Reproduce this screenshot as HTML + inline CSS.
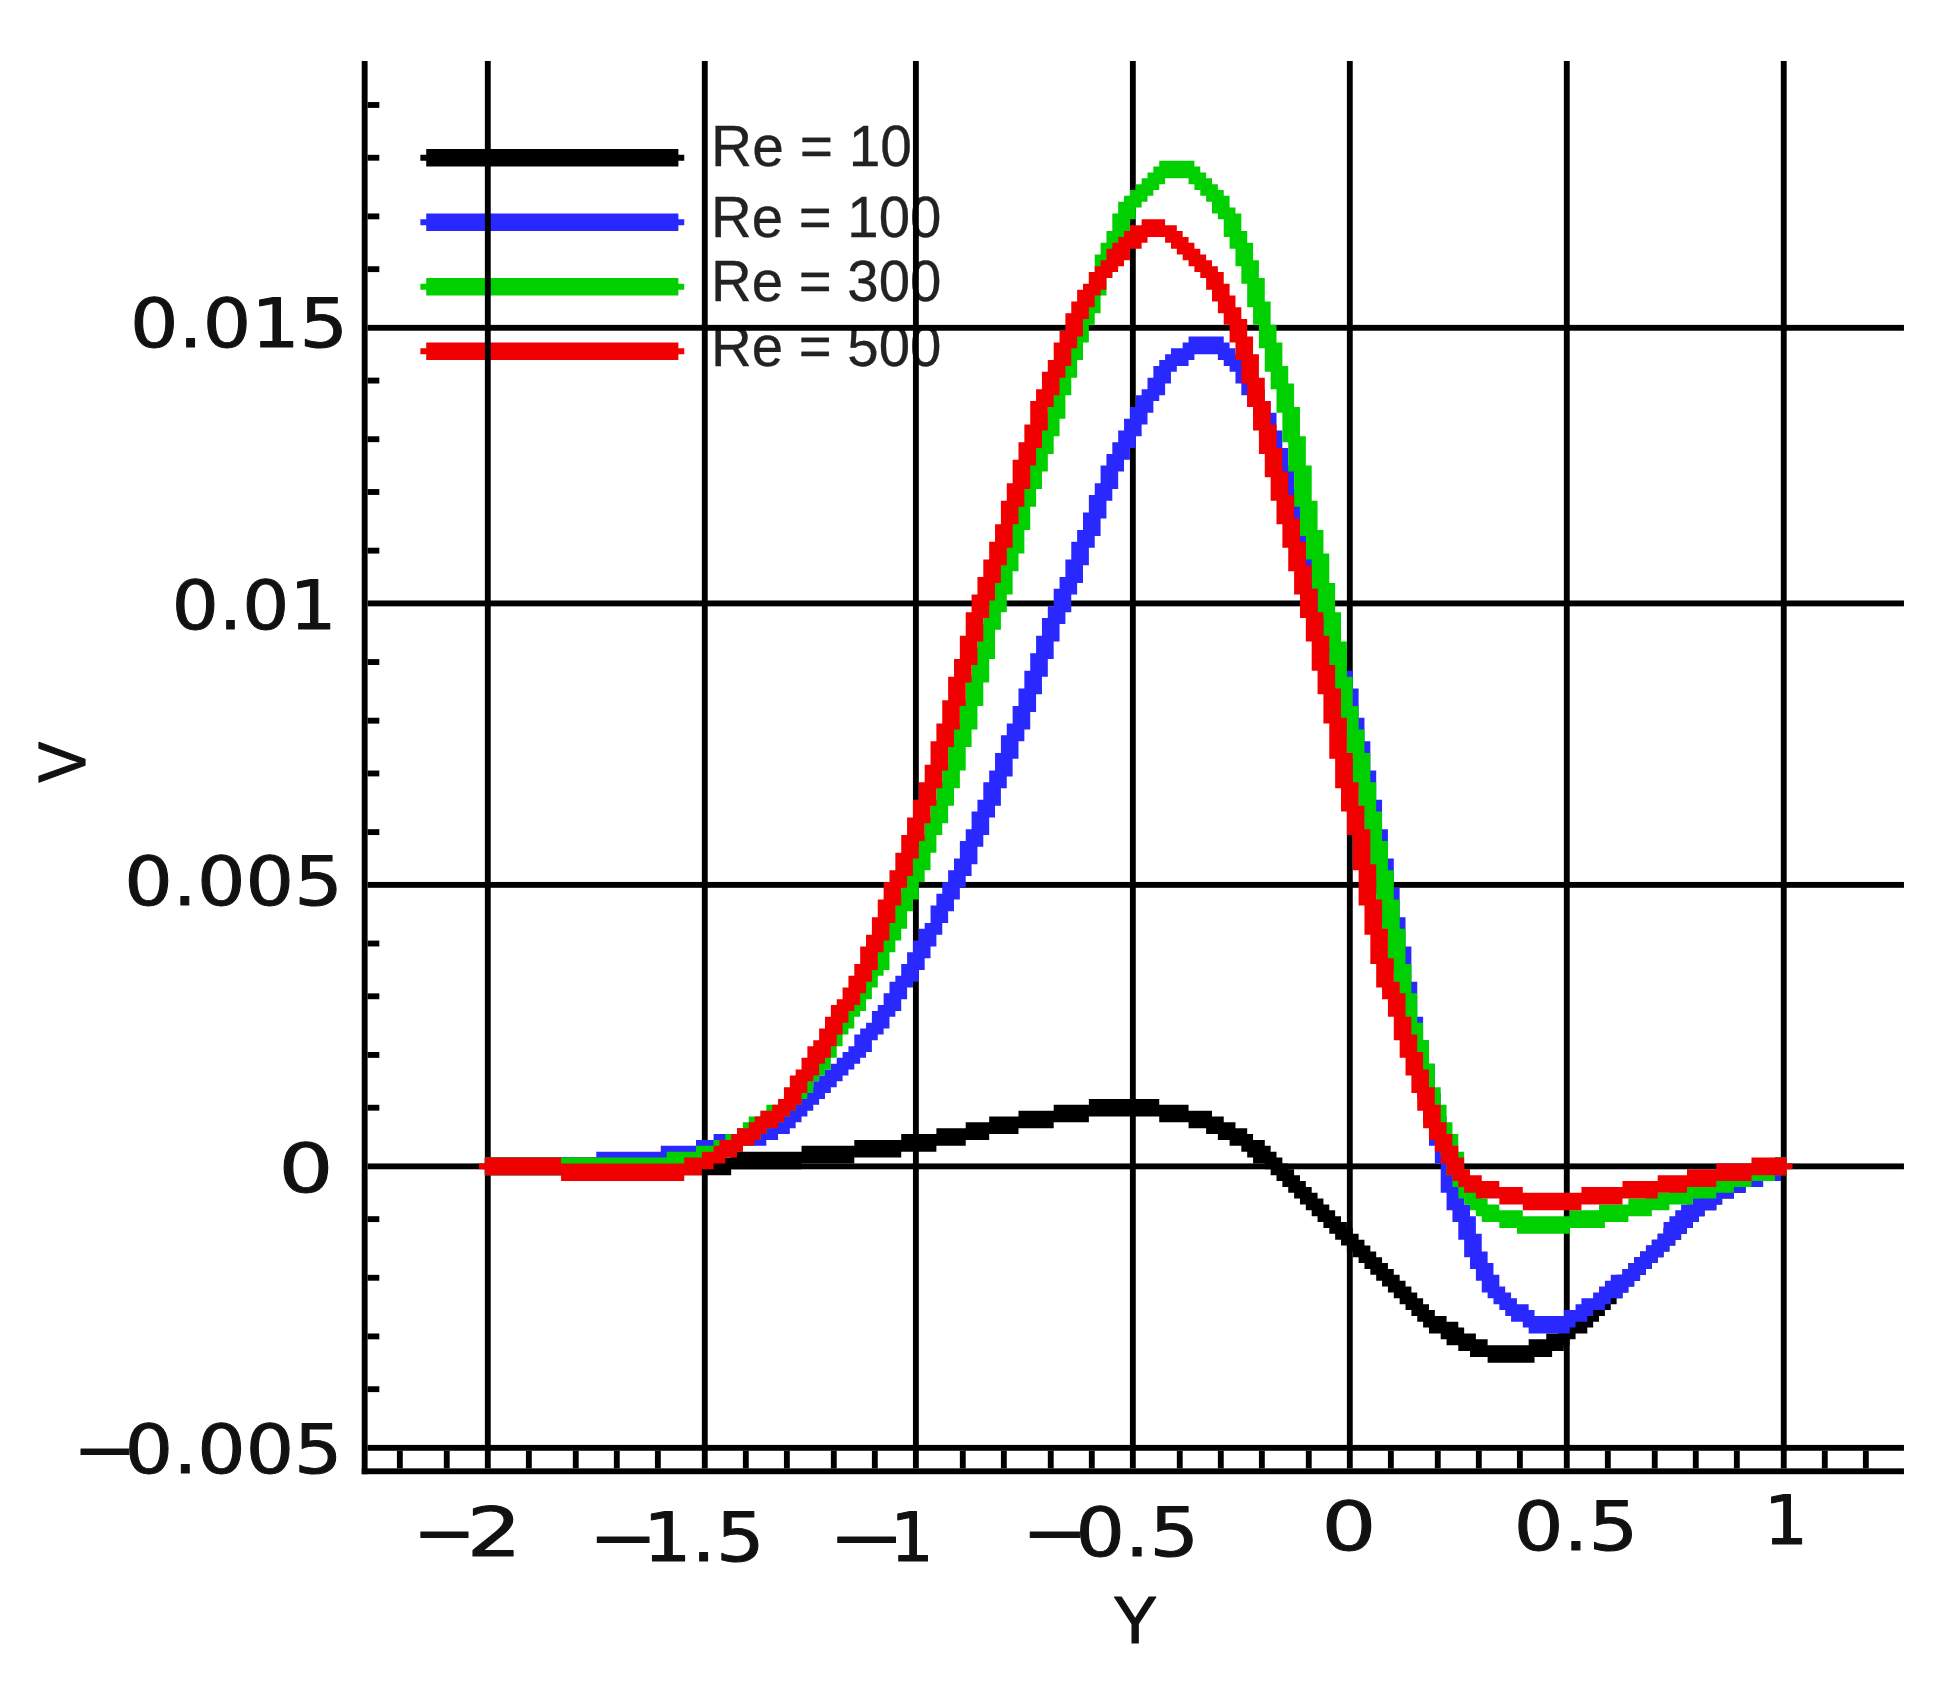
<!DOCTYPE html>
<html lang="en"><head><meta charset="utf-8"><title>V versus Y for several Reynolds numbers</title>
<style>html,body{margin:0;padding:0;background:#fff}body{width:1949px;height:1682px;overflow:hidden}svg{display:block}.tk{font-family:"DejaVu Sans","Liberation Sans",sans-serif;font-size:68.5px;fill:#111;stroke:#111;stroke-width:1px;stroke-linejoin:round}.lg{font-family:"Liberation Sans",sans-serif;font-size:57.5px;fill:#222;stroke:#222;stroke-width:0.3px}.ax{font-family:"Liberation Sans",sans-serif;font-size:66.5px;fill:#111;stroke:#111;stroke-width:1.2px;stroke-linejoin:round}</style></head><body>
<svg width="1949" height="1682" viewBox="0 0 1949 1682">
<rect width="1949" height="1682" fill="#fff"/>
<g id="legend-text">
<text class="lg" x="711.1" y="166.4" textLength="200.9" lengthAdjust="spacingAndGlyphs">Re = 10</text>
<text class="lg" x="711.1" y="236.7" textLength="230.3" lengthAdjust="spacingAndGlyphs">Re = 100</text>
<text class="lg" x="711.1" y="301.2" textLength="230.3" lengthAdjust="spacingAndGlyphs">Re = 300</text>
<text class="lg" x="711.1" y="365.5" textLength="230.3" lengthAdjust="spacingAndGlyphs">Re = 500</text>
</g>
<g id="plot" transform="translate(-1.84 2.35) scale(5.864)">
<g id="legend-lines">
<path fill="#000000" d="M72 26 h1 v-1 h43 v1 h1 v1 h-1 v1 h-43 v-1 h-1 z"/>
<path fill="#2929ff" d="M72 37 h1 v-1 h43 v1 h1 v1 h-1 v1 h-43 v-1 h-1 z"/>
<path fill="#00d000" d="M72 48 h1 v-1 h43 v1 h1 v1 h-1 v1 h-43 v-1 h-1 z"/>
<path fill="#f00000" d="M72 59 h1 v-1 h43 v1 h1 v1 h-1 v1 h-43 v-1 h-1 z"/>
</g>
<g id="grid" fill="#000">
<rect x="62" y="10" width="1" height="241"/>
<rect x="62" y="250" width="263" height="1"/>
<rect x="83" y="10" width="1" height="240"/>
<rect x="120" y="10" width="1" height="240"/>
<rect x="156" y="10" width="1" height="240"/>
<rect x="193" y="10" width="1" height="240"/>
<rect x="230" y="10" width="1" height="240"/>
<rect x="267" y="10" width="1" height="240"/>
<rect x="304" y="10" width="1" height="240"/>
<rect x="63" y="55" width="262" height="1"/>
<rect x="63" y="102" width="262" height="1"/>
<rect x="63" y="150" width="262" height="1"/>
<rect x="63" y="198" width="262" height="1"/>
<rect x="63" y="246" width="262" height="1"/>
<rect x="63" y="17" width="2" height="1"/>
<rect x="63" y="26" width="2" height="1"/>
<rect x="63" y="36" width="2" height="1"/>
<rect x="63" y="45" width="2" height="1"/>
<rect x="63" y="64" width="2" height="1"/>
<rect x="63" y="74" width="2" height="1"/>
<rect x="63" y="83" width="2" height="1"/>
<rect x="63" y="93" width="2" height="1"/>
<rect x="63" y="112" width="2" height="1"/>
<rect x="63" y="122" width="2" height="1"/>
<rect x="63" y="131" width="2" height="1"/>
<rect x="63" y="141" width="2" height="1"/>
<rect x="63" y="160" width="2" height="1"/>
<rect x="63" y="169" width="2" height="1"/>
<rect x="63" y="179" width="2" height="1"/>
<rect x="63" y="188" width="2" height="1"/>
<rect x="63" y="207" width="2" height="1"/>
<rect x="63" y="217" width="2" height="1"/>
<rect x="63" y="227" width="2" height="1"/>
<rect x="63" y="236" width="2" height="1"/>
<rect x="68" y="247" width="1" height="3"/>
<rect x="76" y="247" width="1" height="3"/>
<rect x="90" y="247" width="1" height="3"/>
<rect x="98" y="247" width="1" height="3"/>
<rect x="105" y="247" width="1" height="3"/>
<rect x="112" y="247" width="1" height="3"/>
<rect x="127" y="247" width="1" height="3"/>
<rect x="134" y="247" width="1" height="3"/>
<rect x="142" y="247" width="1" height="3"/>
<rect x="149" y="247" width="1" height="3"/>
<rect x="164" y="247" width="1" height="3"/>
<rect x="171" y="247" width="1" height="3"/>
<rect x="179" y="247" width="1" height="3"/>
<rect x="186" y="247" width="1" height="3"/>
<rect x="201" y="247" width="1" height="3"/>
<rect x="208" y="247" width="1" height="3"/>
<rect x="215" y="247" width="1" height="3"/>
<rect x="223" y="247" width="1" height="3"/>
<rect x="237" y="247" width="1" height="3"/>
<rect x="245" y="247" width="1" height="3"/>
<rect x="252" y="247" width="1" height="3"/>
<rect x="259" y="247" width="1" height="3"/>
<rect x="274" y="247" width="1" height="3"/>
<rect x="282" y="247" width="1" height="3"/>
<rect x="289" y="247" width="1" height="3"/>
<rect x="296" y="247" width="1" height="3"/>
<rect x="311" y="247" width="1" height="3"/>
<rect x="318" y="247" width="1" height="3"/>
</g>
<g id="curves">
<path fill="#000000" d="M83 197H125V196H137V195H146V194H154V193H160V192H165V191H169V190H174V189H180V188H186V187H198V188H203V189H207V190H209V191H211V192H213V193H214V194H216V195H217V196H218V197H219V198H220V199H221V200H222V201H223V202H224V203H225V204H226V205H227V206H228V207H229V208H230V209H231V210H232V211H233V212H234V213H235V214H236V215H237V216H238V217H239V218H240V219H241V220H242V221H243V222H244V223H245V224H247V225H249V226H250V227H252V228H254V229H261V228H264V227H266V226H267V225H268V224H270V223H271V222H272V221H273V220H274V219H275V218H276V217H277V216H278V215H279V214H280V213H281V212H282V211H283V210H284V209H285V208H286V207H287V206H288V205H289V204H290V203H292V202H293V201H295V200H297V199H300V198H303V197H305V200H304V201H300V202H298V203H296V204H294V205H293V206H291V207H290V208H289V209H288V210H287V211H286V212H285V213H284V214H283V215H282V216H281V217H280V218H279V219H278V220H277V221H276V222H275V223H274V224H273V225H272V226H271V227H269V228H268V229H267V230H265V231H262V232H254V231H251V230H249V229H247V228H246V227H244V226H243V225H242V224H241V223H240V222H239V221H238V220H237V219H236V218H235V217H234V216H233V215H232V214H231V213H230V212H229V211H228V210H227V209H226V208H225V207H224V206H223V205H222V204H221V203H220V202H219V201H218V200H217V199H216V198H214V197H213V196H212V195H210V194H208V193H206V192H203V191H198V190H186V191H180V192H174V193H169V194H165V195H160V196H154V197H146V198H137V199H125V200H83Z"/>
<path fill="#2929ff" d="M83 197H102V196H113V195H119V194H122V193H126V192H130V191H132V190H134V189H135V188H136V187H137V186H138V185H139V184H140V183H141V182H142V181H143V180H144V179H145V178H146V176H147V175H148V174H149V172H150V171H151V169H152V167H153V166H154V164H155V162H156V160H157V158H158V157H159V154H160V152H161V150H162V148H163V146H164V143H165V141H166V138H167V136H168V133H169V131H170V128H171V125H172V123H173V120H174V117H175V114H176V111H177V108H178V105H179V103H180V100H181V98H182V95H183V92H184V90H185V87H186V84H187V82H188V79H189V77H190V75H191V73H192V71H193V69H194V67H195V66H196V64H197V62H198V61H199V60H200V59H202V58H203V57H209V58H210V59H211V60H212V61H213V62H214V64H215V66H216V68H217V70H218V73H219V76H220V79H221V83H222V87H223V90H224V94H225V97H226V101H227V104H228V107H229V110H230V114H231V117H232V122H233V126H234V131H235V136H236V141H237V146H238V151H239V156H240V161H241V167H242V173H243V177H244V181H245V186H246V190H247V194H248V197H249V202H250V205H251V207H252V210H253V213H254V215H255V217H256V219H257V220H258V221H259V222H261V223H262V224H267V223H269V222H270V221H272V220H273V219H274V218H275V217H277V216H278V215H279V214H280V213H281V212H282V211H283V210H284V208H285V207H286V206H287V205H289V204H290V203H292V202H293V201H295V200H298V199H300V198H303V197H305V200H304V201H301V202H298V203H296V204H294V205H293V206H291V207H290V208H289V209H288V210H287V211H286V212H285V213H284V214H283V215H282V216H281V217H280V218H279V219H278V220H277V221H275V222H274V223H272V224H271V225H269V226H268V227H261V226H260V225H258V224H257V223H256V222H255V221H254V220H253V218H252V216H251V214H250V211H249V208H248V206H247V203H246V198H245V195H244V191H243V187H242V182H241V178H240V174H239V168H238V162H237V157H236V152H235V147H234V142H233V137H232V132H231V127H230V123H229V118H228V115H227V111H226V108H225V105H224V102H223V98H222V95H221V91H220V88H219V84H218V80H217V77H216V74H215V71H214V69H213V67H212V65H211V63H210V62H209V61H208V60H204V61H203V62H201V63H200V65H199V67H198V68H197V70H196V72H195V74H194V76H193V78H192V80H191V83H190V85H189V88H188V91H187V93H186V96H185V99H184V101H183V104H182V106H181V109H180V112H179V115H178V118H177V121H176V124H175V126H174V129H173V132H172V134H171V137H170V139H169V142H168V144H167V147H166V149H165V151H164V153H163V155H162V157H161V159H160V161H159V163H158V165H157V167H156V168H155V170H154V172H153V173H152V175H151V176H150V177H149V179H148V180H147V181H146V182H145V183H144V184H143V185H142V186H141V187H140V188H139V189H138V190H137V191H136V192H135V193H133V194H131V195H127V196H122V197H119V198H113V199H102V200H83Z"/>
<path fill="#00d000" d="M83 197H114V196H119V195H122V194H124V193H126V192H127V191H128V190H130V189H131V188H133V187H134V186H135V185H136V183H137V182H138V180H139V179H140V177H141V175H142V174H143V172H144V170H145V169H146V167H147V165H148V164H149V162H150V159H151V157H152V154H153V152H154V149H155V147H156V144H157V142H158V139H159V136H160V133H161V130H162V126H163V123H164V119H165V115H166V110H167V106H168V103H169V100H170V96H171V93H172V89H173V85H174V82H175V79H176V76H177V73H178V70H179V66H180V63H181V60H182V57H183V54H184V52H185V49H186V46H187V43H188V41H189V39H190V36H191V34H192V33H193V32H194V31H195V30H196V29H197V28H198V27H204V28H205V29H206V30H207V31H208V32H209V33H210V35H211V36H212V39H213V41H214V44H215V47H216V51H217V55H218V58H219V62H220V65H221V69H222V74H223V79H224V85H225V90H226V94H227V99H228V104H229V109H230V115H231V120H232V124H233V128H234V133H235V138H236V143H237V148H238V153H239V158H240V164H241V169H242V174H243V177H244V181H245V185H246V188H247V191H248V193H249V196H250V199H251V201H252V203H253V204H254V205H256V206H260V207H268V206H273V205H278V204H281V203H285V202H289V201H293V200H296V199H299V198H303V197H305V200H303V201H299V202H296V203H293V204H289V205H285V206H282V207H278V208H274V209H268V210H259V209H256V208H253V207H252V206H251V205H250V204H249V202H248V200H247V197H246V194H245V192H244V189H243V186H242V182H241V178H240V175H239V171H238V165H237V159H236V154H235V149H234V145H233V139H232V134H231V129H230V125H229V121H228V116H227V110H226V105H225V100H224V95H223V91H222V86H221V80H220V75H219V70H218V66H217V63H216V59H215V55H214V52H213V48H212V45H211V42H210V40H209V37H208V36H207V34H206V33H205V32H204V31H203V30H199V31H198V32H197V33H196V34H195V35H194V37H193V40H192V42H191V44H190V47H189V50H188V53H187V55H186V58H185V61H184V64H183V67H182V71H181V74H180V77H179V80H178V83H177V86H176V90H175V94H174V97H173V101H172V104H171V107H170V112H169V116H168V120H167V124H166V127H165V131H164V134H163V137H162V140H161V142H160V145H159V148H158V150H157V153H156V155H155V158H154V160H153V162H152V165H151V166H150V168H149V170H148V172H147V173H146V175H145V176H144V178H143V180H142V182H141V183H140V184H139V186H138V187H137V188H136V189H135V190H134V191H132V192H131V193H130V194H128V195H127V196H125V197H122V198H119V199H115V200H83Z"/>
<path fill="#f00000" d="M83 197H96V198H117V197H120V196H122V195H123V194H125V193H126V192H128V191H129V190H130V189H132V188H133V187H134V185H135V183H136V182H137V180H138V178H139V177H140V175H141V173H142V171H143V170H144V168H145V166H146V164H147V161H148V159H149V156H150V153H151V150H152V148H153V145H154V142H155V139H156V136H157V133H158V130H159V126H160V123H161V119H162V115H163V112H164V108H165V104H166V101H167V98H168V95H169V92H170V89H171V85H172V82H173V78H174V75H175V72H176V68H177V66H178V63H179V61H180V58H181V56H182V53H183V51H184V49H185V48H186V46H187V45H188V44H189V42H190V41H191V40H192V39H193V38H195V37H199V38H201V39H202V40H203V41H204V42H205V43H206V44H207V45H208V46H209V48H210V50H211V52H212V54H213V57H214V60H215V64H216V68H217V72H218V76H219V80H220V84H221V88H222V92H223V96H224V100H225V104H226V108H227V113H228V117H229V122H230V128H231V133H232V137H233V141H234V147H235V153H236V158H237V163H238V167H239V169H240V173H241V176H242V179H243V182H244V185H245V188H246V191H247V193H248V195H249V197H250V199H251V200H253V201H256V202H260V203H270V202H277V201H283V200H288V199H293V198H299V197H305V200H299V201H293V202H288V203H283V204H277V205H270V206H260V205H256V204H252V203H250V202H249V201H248V200H247V198H246V196H245V194H244V192H243V189H242V186H241V183H240V180H239V177H238V173H237V170H236V168H235V164H234V159H233V154H232V148H231V142H230V138H229V134H228V129H227V123H226V118H225V114H224V109H223V105H222V101H221V97H220V93H219V89H218V85H217V81H216V77H215V73H214V69H213V65H212V61H211V58H210V55H209V53H208V51H207V49H206V47H205V46H204V45H203V44H202V43H201V42H200V41H199V40H196V41H195V42H193V44H192V45H191V46H190V47H189V49H188V50H187V52H186V54H185V57H184V59H183V62H182V64H181V67H180V69H179V73H178V76H177V79H176V83H175V86H174V89H173V93H172V96H171V99H170V102H169V105H168V109H167V113H166V116H165V120H164V124H163V127H162V131H161V134H160V137H159V140H158V143H157V146H156V149H155V151H154V154H153V157H152V160H151V162H150V165H149V167H148V169H147V171H146V172H145V174H144V176H143V178H142V180H141V181H140V183H139V184H138V186H137V188H136V189H135V190H134V191H133V192H131V193H130V194H129V195H127V196H126V197H124V198H122V199H120V200H117V201H96V200H83Z"/>
<rect x="82" y="198" width="1" height="1" fill="#f00000"/>
<rect x="305" y="198" width="1" height="1" fill="#f00000"/>
</g>
</g>
<g id="labels">
<text class="tk" x="130.0" y="347.4" textLength="218.1" lengthAdjust="spacingAndGlyphs">0.015</text>
<text class="tk" x="171.8" y="628.7" textLength="164.7" lengthAdjust="spacingAndGlyphs">0.01</text>
<text class="tk" x="124.3" y="904.5" textLength="218.4" lengthAdjust="spacingAndGlyphs">0.005</text>
<text class="tk" x="278.4" y="1191.8" textLength="54.9" lengthAdjust="spacingAndGlyphs">0</text>
<text class="tk" y="1473.2"><tspan x="73.1" textLength="63.9" lengthAdjust="spacingAndGlyphs">−</tspan><tspan x="124.8" textLength="217.6" lengthAdjust="spacingAndGlyphs">0.005</tspan></text>
<text class="tk" y="1555.8"><tspan x="412.9" textLength="63.0" lengthAdjust="spacingAndGlyphs">−</tspan><tspan x="466.7" textLength="54.9" lengthAdjust="spacingAndGlyphs">2</tspan></text>
<text class="tk" y="1561.1"><tspan x="588.7" textLength="69.0" lengthAdjust="spacingAndGlyphs">−</tspan><tspan x="643.0" textLength="121.5" lengthAdjust="spacingAndGlyphs">1.5</tspan></text>
<text class="tk" y="1561.1"><tspan x="828.3" textLength="76.9" lengthAdjust="spacingAndGlyphs">−</tspan><tspan x="890.2" textLength="43.6" lengthAdjust="spacingAndGlyphs">1</tspan></text>
<text class="tk" y="1555.8"><tspan x="1022.0" textLength="66.3" lengthAdjust="spacingAndGlyphs">−</tspan><tspan x="1075.4" textLength="123.7" lengthAdjust="spacingAndGlyphs">0.5</tspan></text>
<text class="tk" x="1321.5" y="1549.6" textLength="54.9" lengthAdjust="spacingAndGlyphs">0</text>
<text class="tk" x="1513.8" y="1549.6" textLength="124.5" lengthAdjust="spacingAndGlyphs">0.5</text>
<text class="tk" x="1763.9" y="1543.9" textLength="44.0" lengthAdjust="spacingAndGlyphs">1</text>
<text class="ax" x="1113" y="1643.2">Y</text>
<text class="ax" transform="translate(84.9,782.4) rotate(-90)" textLength="40.6" lengthAdjust="spacingAndGlyphs">V</text>
</g>
</svg></body></html>
